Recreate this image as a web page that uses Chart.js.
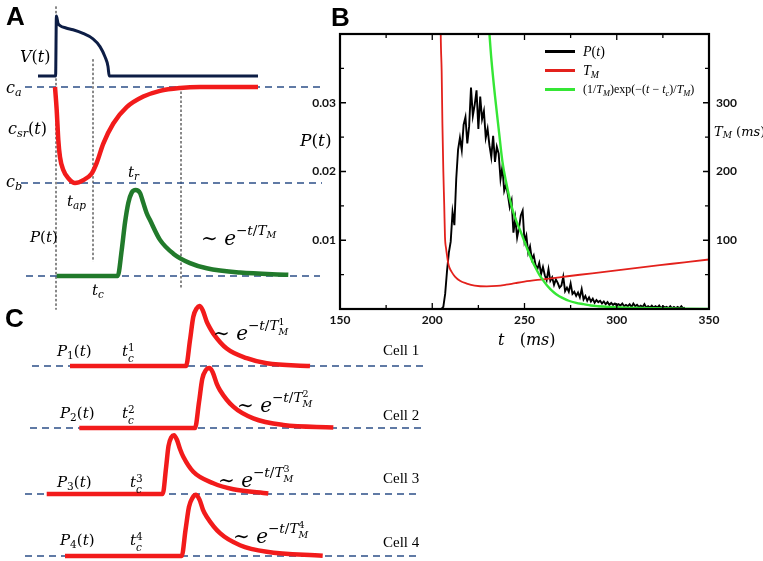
<!doctype html>
<html lang="en">
<head>
<meta charset="utf-8">
<title>SR calcium release and latency distribution</title>
<script src="https://cdn.jsdelivr.net/npm/chart.js"></script>
<style>
  body { margin: 0; background: #fff; }
  #page { position: relative; width: 763px; height: 561px; overflow: hidden; }
  canvas { position: absolute; }
  .t { position: absolute; transform: translateY(-50%); font-family: 'DejaVu Serif', serif; font-size: 15px;
       line-height: 1; white-space: nowrap; color: #000; }
  .t i { font-style: italic; }
  .t sub { font-size: 70%; vertical-align: -0.3em; line-height: 0; }
  .t sup { font-size: 68%; vertical-align: 0.75em; line-height: 0; }
  .ss { display: inline-flex; flex-direction: column; font-size: 70%; line-height: 1; vertical-align: middle; }
  .ex { font-size: 20px; }
  .cell { font-family: 'Liberation Serif', serif; font-size: 15px; }
  .panel { font-family: 'Liberation Sans', Arial, sans-serif; font-weight: bold; font-size: 26px; }
  #legend-b { position: absolute; left: 545px; top: 42px; }
  .lg-row { display: flex; align-items: center; height: 19px; }
  .lg-sw { display: inline-block; width: 30px; margin-right: 8px; }
  .lg-tx { font-family: 'Liberation Serif', serif; white-space: nowrap; }
  .lg-tx i { font-style: italic; }
  .lg-tx sub { font-size: 70%; vertical-align: -0.3em; line-height: 0; }
</style>
</head>
<body>
<div id="page">
  <canvas id="chart-a" width="330" height="320" style="left:0;top:0"></canvas>
  <canvas id="chart-c" width="430" height="271" style="left:0;top:290px"></canvas>
  <canvas id="chart-b" width="473" height="345" style="left:290px;top:0"></canvas>

  <!-- panel A -->
  <div class="t panel" style="left:6px;top:16px">A</div>
  <div class="t" style="left:20px;top:57px;font-size:16px"><i>V</i>(<i>t</i>)</div>
  <div class="t" style="left:6px;top:88px;font-size:16px"><i>c</i><sub><i>a</i></sub></div>
  <div class="t" style="left:8px;top:129px;font-size:16px"><i>c</i><sub><i>sr</i></sub>(<i>t</i>)</div>
  <div class="t" style="left:6px;top:182px;font-size:16px"><i>c</i><sub><i>b</i></sub></div>
  <div class="t" style="left:128px;top:172px"><i>t</i><sub><i>r</i></sub></div>
  <div class="t" style="left:67px;top:201px"><i>t</i><sub><i>ap</i></sub></div>
  <div class="t" style="left:30px;top:237px"><i>P</i>(<i>t</i>)</div>
  <div class="t ex" style="left:201px;top:238px">∼ <i>e</i><sup>−<i>t</i>/<i>T</i><sub><i>M</i></sub></sup></div>
  <div class="t" style="left:92px;top:290px"><i>t</i><sub><i>c</i></sub></div>

  <!-- panel B -->
  <div class="t panel" style="left:331px;top:17px">B</div>
  <div class="t" style="left:300px;top:140px;font-size:17px"><i>P</i>(<i>t</i>)</div>
  <div class="t" style="left:714px;top:131px;font-size:13px"><i>T</i><sub><i>M</i></sub> (<i>ms</i>)</div>
  <div class="t" style="left:498px;top:340px;font-size:16px"><i>t</i>&nbsp;&nbsp;&nbsp;(<i>ms</i>)</div>
  <div id="legend-b"></div>

  <!-- panel C -->
  <div class="t panel" style="left:5px;top:318px">C</div>
  <div class="t" style="left:57px;top:351px"><i>P</i><sub>1</sub>(<i>t</i>)</div>
  <div class="t" style="left:122px;top:352px"><i>t</i><span class="ss"><span>1</span><i>c</i></span></div>
  <div class="t ex" style="left:213px;top:330px">∼ <i>e</i><sup>−<i>t</i>/<i>T</i><span class="ss"><span>1</span><i>M</i></span></sup></div>
  <div class="t cell" style="left:383px;top:350px">Cell 1</div>

  <div class="t" style="left:60px;top:413px"><i>P</i><sub>2</sub>(<i>t</i>)</div>
  <div class="t" style="left:122px;top:414px"><i>t</i><span class="ss"><span>2</span><i>c</i></span></div>
  <div class="t ex" style="left:237px;top:402px">∼ <i>e</i><sup>−<i>t</i>/<i>T</i><span class="ss"><span>2</span><i>M</i></span></sup></div>
  <div class="t cell" style="left:383px;top:415px">Cell 2</div>

  <div class="t" style="left:57px;top:482px"><i>P</i><sub>3</sub>(<i>t</i>)</div>
  <div class="t" style="left:130px;top:483px"><i>t</i><span class="ss"><span>3</span><i>c</i></span></div>
  <div class="t ex" style="left:218px;top:477px">∼ <i>e</i><sup>−<i>t</i>/<i>T</i><span class="ss"><span>3</span><i>M</i></span></sup></div>
  <div class="t cell" style="left:383px;top:478px">Cell 3</div>

  <div class="t" style="left:60px;top:540px"><i>P</i><sub>4</sub>(<i>t</i>)</div>
  <div class="t" style="left:130px;top:541px"><i>t</i><span class="ss"><span>4</span><i>c</i></span></div>
  <div class="t ex" style="left:233px;top:533px">∼ <i>e</i><sup>−<i>t</i>/<i>T</i><span class="ss"><span>4</span><i>M</i></span></sup></div>
  <div class="t cell" style="left:383px;top:542px">Cell 4</div>
</div>
<script>
    // ---------- PANEL B DATA (t in ms) ----------
    // P(t): one sample per ms starting at 180 ms
    const pStart = 180
    const pValues = [
        0, 0, 0, 0, 0, 0, 0, 0, 0, 0,
        0, 0, 0, 0, 0, 0, 0, 0, 0, 0,
        0, 0, 0, 0, 0, 0, 0.0003, 0.0022, 0.0055, 0.0082,
        0.0098, 0.0141, 0.0122, 0.0189, 0.0232, 0.0249, 0.0231, 0.0268, 0.0279, 0.0241,
        0.0266, 0.0322, 0.0281, 0.0297, 0.0318, 0.0262, 0.0309, 0.0276, 0.0288, 0.0249,
        0.0262, 0.0238, 0.0221, 0.0252, 0.0214, 0.0236, 0.0226, 0.0189, 0.0207, 0.0172,
        0.0181, 0.0166, 0.0148, 0.0158, 0.0111, 0.0132, 0.0104, 0.0118, 0.0136, 0.0143,
        0.0098, 0.0107, 0.0082, 0.0091, 0.0072, 0.0078, 0.0064, 0.0058, 0.0067, 0.0051,
        0.0061, 0.0049, 0.0042, 0.0058, 0.0041, 0.0046, 0.0035, 0.0043, 0.0038, 0.0031,
        0.0034, 0.0047, 0.0026, 0.0031, 0.0025, 0.0037, 0.0022, 0.0025, 0.0019, 0.0024,
        0.0017, 0.0029, 0.0014, 0.0019, 0.0012, 0.0017, 0.0011, 0.0015, 0.0009, 0.0013,
        0.0010, 0.0012, 0.0008, 0.0011, 0.0007, 0.0010, 0.0006, 0.0009, 0.0006, 0.0008,
        0.0005, 0.0007, 0.0005, 0.0008, 0.0004, 0.0006, 0.0004, 0.0007, 0.0003, 0.0008,
        0.0004, 0.0006, 0.0003, 0.0005, 0.0003, 0.0007, 0.0002, 0.0004, 0.0002, 0.0005,
        0.0002, 0.0004, 0.0002, 0.0005, 0.0001, 0.0004, 0.0002, 0.0003, 0.0001, 0.0004,
        0.0001, 0.0003, 0.0001, 0.0003, 0.0001, 0.0004, 0.0001, 0.0002
    ]
    // T_M (ms), right axis
    const tmTime = [204, 204.6, 205.1, 205.5, 206, 206.5, 206.9, 207.5, 208, 208.7, 209.5, 210.5, 212.3, 215,
        218.7, 223, 229.5, 235, 240, 245, 250, 260, 270, 280, 290, 300, 310, 320, 330, 340, 350]
    const tmValue = [600, 400, 346, 270, 201, 150, 105, 88, 78, 66, 59, 54, 47, 41,
        37, 34, 32.8, 33.5, 35.3, 37.6, 39.8, 43.2, 46.5, 49.8, 53, 56.2, 59.4, 62.6, 65.8, 68.9, 72]
    // exponential fit (left axis)
    const fitTime = [229, 230, 232, 234, 236, 238, 240, 242, 244, 246, 248, 250, 252, 254, 256, 258, 260,
        262, 264, 266, 268, 270, 274, 278, 282, 286, 290, 296, 305, 320, 335, 350]
    const fitValue = [0.046, 0.0435, 0.0365, 0.031, 0.0262, 0.0215, 0.0185, 0.016, 0.014, 0.0125, 0.0112,
        0.0098, 0.0084, 0.0071, 0.006, 0.005, 0.0042, 0.0035, 0.0029, 0.0024, 0.002, 0.0017, 0.0012,
        0.0009, 0.0007, 0.0005, 0.0004, 0.0003, 0.0002, 0.0001, 0.00005, 0]

    // ---------- PANEL A DATA (schematic time units) ----------
    const vTime = [-9, -0.2, 0.2, 1, 2, 5, 8.5, 13.5, 18.5, 22, 24.5, 26, 26.6, 101]
    const vValue = [0, 0, 1.0, 0.88, 0.84, 0.8, 0.77, 0.71, 0.62, 0.49, 0.32, 0.16, 0, 0]
    // c_sr scaled so c_b = 0, c_a = 1
    const csrTime = [-0.5, 0.35, 1.15, 2, 3.65, 6.15, 9.5, 13.65, 17.85, 20.35, 23.65, 28.65, 35.35, 43.65, 52, 62, 72, 101]
    const csrValue = [1.0, 0.76, 0.45, 0.27, 0.135, 0.05, 0.0, 0.03, 0.10, 0.21, 0.41, 0.62, 0.79, 0.90, 0.96, 0.99, 1.0, 1.0]
    const pATime = [0.35, 30.85, 32.85, 34.5, 36.15, 37.85, 39.85, 42, 43.65, 45.35, 47, 52, 58.65, 67, 75.35, 92, 116.15]
    const pAValue = [0, 0, 0.30, 0.62, 0.85, 0.97, 1.0, 0.965, 0.85, 0.73, 0.65, 0.42, 0.26, 0.15, 0.09, 0.04, 0.015]
    // dotted markers (time, top and bottom in c_sr units)
    const markerTime = [0, 18.5, 62.5]
    const markerTop = [1.84, 1.29, 1.0]
    const markerBottom = [-1.32, -0.82, -1.09]

    // ---------- PANEL C DATA ----------
    const cell1Time = [7, 65, 67, 68.65, 70.35, 71.65, 73.35, 75.35, 77, 78.65, 85.35, 95.35, 105.35, 127]
    const cell1Value = [0, 0, 0.43, 0.82, 0.96, 1.0, 0.93, 0.74, 0.63, 0.54, 0.29, 0.13, 0.045, 0]
    const cell2Time = [11.65, 69.5, 71.5, 73.15, 74.85, 76.65, 78.35, 80.35, 82, 88.65, 98.65, 113.65, 138.65]
    const cell2Value = [0, 0, 0.43, 0.82, 0.96, 1.0, 0.93, 0.74, 0.63, 0.355, 0.16, 0.05, 0.01]
    const cell3Time = [-4.65, 53.35, 55, 56.25, 57.75, 59, 60.5, 62, 63.65, 68.65, 78.65, 88.65, 106.15]
    const cell3Value = [0, 0, 0.43, 0.8, 0.95, 0.98, 0.9, 0.75, 0.62, 0.37, 0.18, 0.08, 0.01]
    const cell4Time = [4.5, 62.85, 64.75, 66.5, 68.25, 70, 71.75, 73.5, 75.35, 82, 92, 105.35, 133.35]
    const cell4Value = [0, 0, 0.43, 0.82, 0.97, 1.02, 0.94, 0.77, 0.655, 0.38, 0.18, 0.07, 0.005]
    const cellDashStart = [-12, -13, -15.5, -15.5]
    const cellDashEnd = [183.5, 183, 180.5, 180.5]

    // ---------- STYLE ----------
    const NAVY = '#0d1d45'
    const DASH = '#2c4f88'
    const RED = '#f21b1b'
    const DKGREEN = '#217a2b'

    function pts(times, values) {
        return times.map((t, i) => ({x: t, y: values[i]}))
    }

    function trace(times, values, axis, color, width) {
        return {
            data: pts(times, values), yAxisID: axis, borderColor: color, borderWidth: width,
            pointRadius: 0, cubicInterpolationMode: 'monotone', borderJoinStyle: 'round', order: 0
        }
    }

    function hline(t0, t1, level, axis) {
        return {
            data: [{x: t0, y: level}, {x: t1, y: level}], yAxisID: axis, borderColor: DASH,
            borderWidth: 1.4, borderDash: [7, 5], pointRadius: 0, order: 5
        }
    }

    // vertical placement of a hidden axis: base pixel is value 0, unit pixels per 1.0
    function place(base, unit, height) {
        return {display: false, min: (base - height) / unit, max: base / unit}
    }

    const quiet = {
        responsive: false, animation: false, events: [],
        layout: {padding: 0},
        plugins: {legend: {display: false}, tooltip: {enabled: false}}
    }

    // ---------- PANEL A ----------
    const aSets = [
        trace(vTime, vValue, 'yV', NAVY, 3),
        trace(csrTime, csrValue, 'yC', RED, 4.5),
        trace(pATime, pAValue, 'yP', DKGREEN, 4.5),
        hline(-15.5, 132, 1, 'yC'),
        hline(-17.5, 133, 0, 'yC'),
        hline(-15, 132, 0, 'yP')
    ]
    markerTime.forEach((t, i) => {
        aSets.push({
            data: [{x: t, y: markerTop[i]}, {x: t, y: markerBottom[i]}], yAxisID: 'yC',
            borderColor: '#111', borderWidth: 1, borderDash: [2.5, 2], pointRadius: 0, order: 6
        })
    })
    new Chart(document.getElementById('chart-a'), {
        type: 'line',
        data: {datasets: aSets},
        options: {
            ...quiet,
            scales: {
                x: {type: 'linear', display: false, min: -28, max: 137},
                yV: place(76, 60, 320),
                yC: place(183, 96, 320),
                yP: place(276, 86, 320)
            }
        }
    })

    // ---------- PANEL C ----------
    const cellTimes = [cell1Time, cell2Time, cell3Time, cell4Time]
    const cellValues = [cell1Value, cell2Value, cell3Value, cell4Value]
    const cSets = []
    cellTimes.forEach((times, i) => {
        cSets.push(trace(times, cellValues[i], 'y' + i, RED, 4.5))
        cSets.push(hline(cellDashStart[i], cellDashEnd[i], 0, 'y' + i))
    })
    new Chart(document.getElementById('chart-c'), {
        type: 'line',
        data: {datasets: cSets},
        options: {
            ...quiet,
            scales: {
                x: {type: 'linear', display: false, min: -28, max: 187},
                y0: place(76, 60, 271),
                y1: place(138, 60, 271),
                y2: place(204, 60, 271),
                y3: place(266, 60, 271)
            }
        }
    })

    // ---------- PANEL B ----------
    // frame with inward tick marks on all four sides
    const frameTicks = {
        id: 'frameTicks',
        afterDatasetsDraw(chart) {
            const {ctx, chartArea: a, scales} = chart
            ctx.save()
            ctx.strokeStyle = '#000'
            ctx.lineWidth = 1.3
            ctx.beginPath()
            scales.x.ticks.forEach(t => {
                const px = scales.x.getPixelForValue(t.value)
                const len = t.label ? 6 : 4
                ctx.moveTo(px, a.bottom); ctx.lineTo(px, a.bottom - len)
                ctx.moveTo(px, a.top); ctx.lineTo(px, a.top + len)
            })
            scales.yP.ticks.forEach(t => {
                const py = scales.yP.getPixelForValue(t.value)
                const len = t.label ? 6 : 4
                ctx.moveTo(a.left, py); ctx.lineTo(a.left + len, py)
            })
            scales.yT.ticks.forEach(t => {
                const py = scales.yT.getPixelForValue(t.value)
                const len = t.label ? 6 : 4
                ctx.moveTo(a.right, py); ctx.lineTo(a.right - len, py)
            })
            ctx.stroke()
            ctx.lineWidth = 2.2
            ctx.strokeRect(a.left, a.top, a.right - a.left, a.bottom - a.top)
            ctx.restore()
        }
    }

    // legend as html so the labels can carry sub/superscripts
    const htmlLegend = {
        id: 'htmlLegend',
        afterUpdate(chart, args, opts) {
            const box = document.getElementById(opts.containerID)
            box.innerHTML = ''
            chart.data.datasets.forEach(ds => {
                const row = document.createElement('div')
                row.className = 'lg-row'
                const sw = document.createElement('span')
                sw.className = 'lg-sw'
                sw.style.background = ds.borderColor
                sw.style.height = ds.legendWidth + 'px'
                const tx = document.createElement('span')
                tx.className = 'lg-tx'
                tx.style.fontSize = ds.legendSize + 'px'
                tx.innerHTML = ds.legendHtml
                row.append(sw, tx)
                box.append(row)
            })
        }
    }

    const tickFont = {family: 'Lato', weight: 'bold', size: 12}
    const noGrid = {display: false, drawTicks: false}

    new Chart(document.getElementById('chart-b'), {
        type: 'line',
        plugins: [frameTicks, htmlLegend],
        data: {
            datasets: [{
                data: pValues.map((v, i) => ({x: pStart + i, y: v})),
                yAxisID: 'yP', borderColor: '#000', borderWidth: 1.9, pointRadius: 0, order: 3,
                legendWidth: 3, legendSize: 14, legendHtml: '<i>P</i>(<i>t</i>)'
            }, {
                data: pts(tmTime, tmValue),
                yAxisID: 'yT', borderColor: '#e3211c', borderWidth: 1.8, pointRadius: 0, order: 2,
                cubicInterpolationMode: 'monotone',
                legendWidth: 2.5, legendSize: 14, legendHtml: '<i>T</i><sub><i>M</i></sub>'
            }, {
                data: pts(fitTime, fitValue),
                yAxisID: 'yP', borderColor: '#35e635', borderWidth: 2.4, pointRadius: 0, order: 1,
                cubicInterpolationMode: 'monotone',
                legendWidth: 2.5, legendSize: 12,
                legendHtml: '(1/<i>T</i><sub><i>M</i></sub>)exp(−(<i>t</i> − <i>t</i><sub><i>c</i></sub>)/<i>T</i><sub><i>M</i></sub>)'
            }]
        },
        options: {
            ...quiet,
            layout: {padding: {top: 34, left: 0, right: 0, bottom: 0}},
            plugins: {legend: {display: false}, tooltip: {enabled: false}, htmlLegend: {containerID: 'legend-b'}},
            scales: {
                x: {
                    type: 'linear', min: 150, max: 350,
                    grid: noGrid, border: {display: false},
                    ticks: {
                        stepSize: 25, autoSkip: false, maxRotation: 0, padding: 4, font: tickFont, color: '#111',
                        callback: v => v % 50 === 0 ? String(v) : ''
                    },
                    afterFit: s => { s.height = 36 }
                },
                yP: {
                    position: 'left', min: 0, max: 0.04,
                    grid: noGrid, border: {display: false},
                    ticks: {
                        stepSize: 0.005, autoSkip: false, padding: 4, font: tickFont, color: '#111',
                        callback: v => {
                            const k = Math.round(v * 1000)
                            return (k % 10 === 0 && k > 0 && k < 40) ? (k / 1000).toFixed(2) : ''
                        }
                    },
                    afterFit: s => { s.width = 50 }
                },
                yT: {
                    position: 'right', min: 0, max: 400,
                    grid: noGrid, border: {display: false},
                    ticks: {
                        stepSize: 50, autoSkip: false, padding: 7, font: tickFont, color: '#111',
                        callback: v => (v % 100 === 0 && v > 0 && v < 400) ? String(v) : ''
                    },
                    afterFit: s => { s.width = 54 }
                }
            }
        }
    })
</script>
</body>
</html>
